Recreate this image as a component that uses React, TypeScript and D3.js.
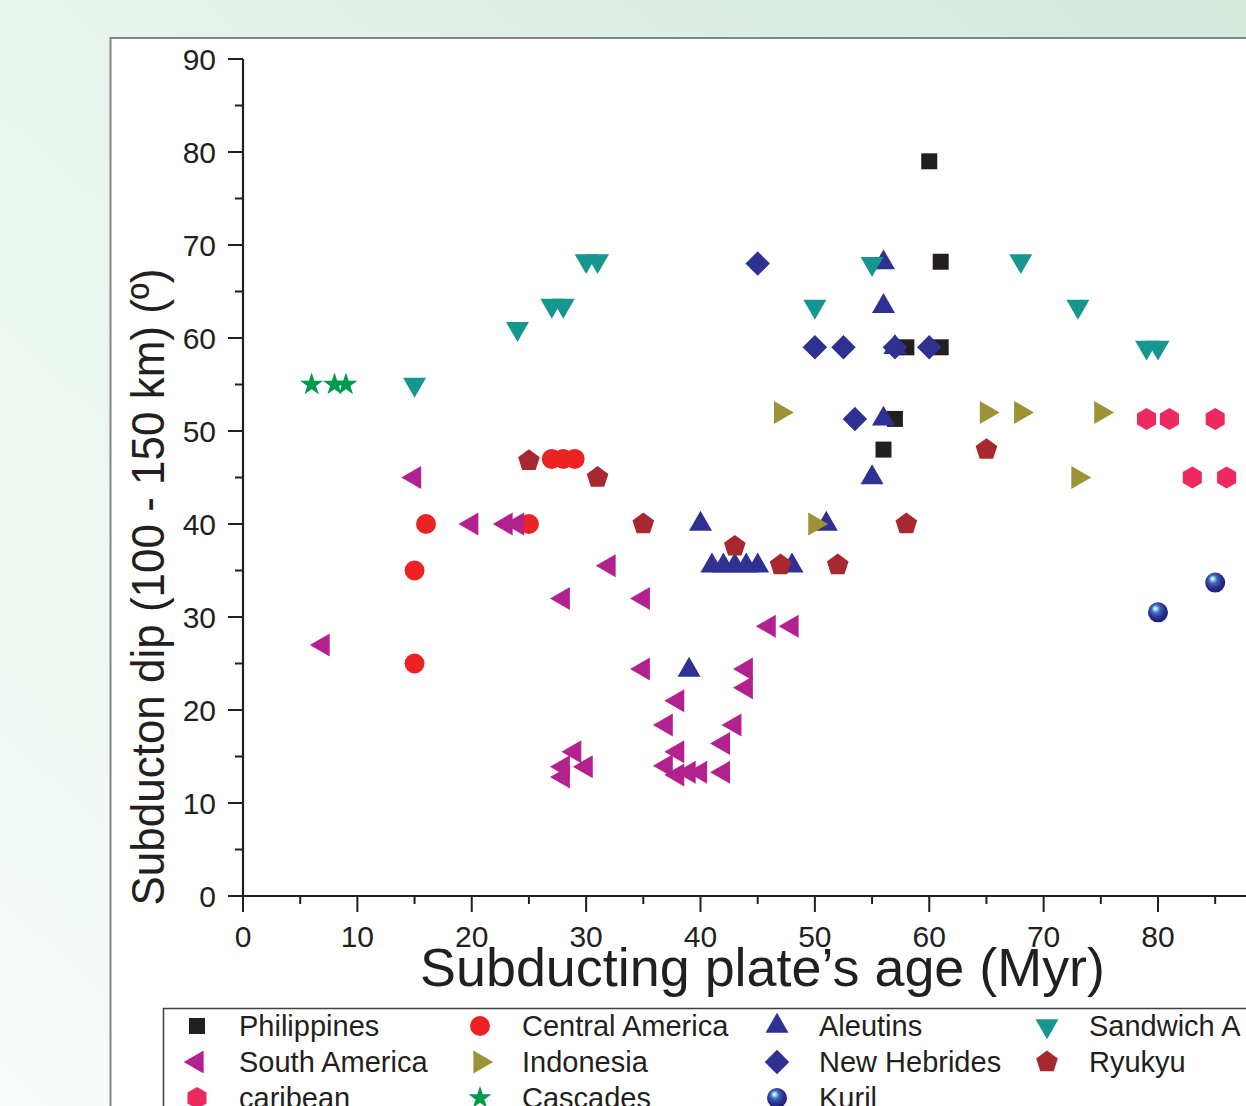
import React from "react";
import * as d3 from "d3";

// ---- data (age Myr, dip deg) ----
const philippines: [number, number][] = [[60, 79], [61, 68.2], [58, 59], [61, 59], [57, 51.3], [56, 48]];
const centralAmerica: [number, number][] = [[15, 25], [15, 35], [16, 40], [25, 40], [27, 47], [28, 47], [29, 47]];
const aleutins: [number, number][] = [[56, 68.1], [56, 63.4], [57, 59], [56, 51.3], [55, 45], [40, 40], [51, 40], [39, 24.3], [41, 35.5], [42, 35.5], [43, 35.5], [44, 35.5], [45, 35.5], [48, 35.5]];
const sandwich: [number, number][] = [[15, 55], [24, 61], [27, 63.5], [28, 63.5], [30, 68.3], [31, 68.3], [50, 63.4], [55, 68], [68, 68.3], [73, 63.4], [79, 59], [80, 59]];
const southAmerica: [number, number][] = [[15, 45], [20, 40], [23, 40], [24, 40], [7, 27], [32, 35.5], [28, 32], [35, 32], [35, 24.4], [29, 15.5], [28, 13.9], [30, 13.9], [28, 12.8], [46, 29], [48, 29], [44, 24.4], [44, 22.4], [38, 21], [37, 18.4], [43, 18.4], [42, 16.4], [38, 15.5], [37, 14], [38, 13], [39, 13.3], [40, 13.3], [42, 13.3]];
const indonesia: [number, number][] = [[47, 52], [50, 40], [65, 52], [68, 52], [75, 52], [73, 45]];
const newHebrides: [number, number][] = [[45, 68], [50, 59], [52.5, 59], [57, 59], [60, 59], [53.5, 51.3]];
const ryukyu: [number, number][] = [[25, 46.8], [31, 45], [35, 40], [43, 37.6], [47, 35.6], [52, 35.6], [58, 40], [65, 48]];
const caribean: [number, number][] = [[79, 51.3], [81, 51.3], [85, 51.3], [83, 45], [86, 45]];
const cascades: [number, number][] = [[6, 55], [8, 55], [9, 55]];
const kuril: [number, number][] = [[80, 30.5], [85, 33.7]];

const seriesNames = ["Philippines", "Central America", "Aleutins", "Sandwich A", "South America", "Indonesia", "New Hebrides", "Ryukyu", "caribean", "Cascades", "Kuril"];
const xTicks = [0, 10, 20, 30, 40, 50, 60, 70, 80];
const yTicks = [0, 10, 20, 30, 40, 50, 60, 70, 80, 90];

const xTitle = "Subducting plate\u2019s age (Myr)";
const yTitle = "Subducton dip (100 - 150 km) (\u00BA)";

// ---- layout ----
const W = 1246, H = 1106;
const x = d3.scaleLinear().domain([0, 90]).range([243, 243 + (1158 - 243) * 90 / 80]);
const y = d3.scaleLinear().domain([0, 90]).range([896, 59]);

const polygon = (n: number, R: number) => {
  const pts = d3.range(n).map((k) => {
    const a = (-90 + (k * 360) / n) * Math.PI / 180;
    return [R * Math.cos(a), R * Math.sin(a)] as [number, number];
  });
  return "M" + pts.map((p) => p.join(",")).join("L") + "Z";
};

const sq = d3.symbol(d3.symbolSquare, 256)()!;
const circ = d3.symbol(d3.symbolCircle, 314)()!;
const tri = d3.symbol(d3.symbolTriangle, 229)()!;
const diam = d3.symbol(d3.symbolSquare, 300)()!;
const star = d3.symbol(d3.symbolStar, 165)()!;
const pent = polygon(5, 11.4);
const hex = polygon(6, 11);

type Style = { data: [number, number][]; path: string; rot: number; fill: string };
const styles: Style[] = [
  { data: philippines, path: sq, rot: 0, fill: "#231f20" },
  { data: centralAmerica, path: circ, rot: 0, fill: "#ed2224" },
  { data: aleutins, path: tri, rot: 0, fill: "#2e3192" },
  { data: sandwich, path: tri, rot: 180, fill: "#16968f" },
  { data: southAmerica, path: tri, rot: -90, fill: "#b3218e" },
  { data: indonesia, path: tri, rot: 90, fill: "#9c9337" },
  { data: newHebrides, path: diam, rot: 45, fill: "#2e3192" },
  { data: ryukyu, path: pent, rot: 0, fill: "#a8282f" },
  { data: caribean, path: hex, rot: 0, fill: "#ec2a60" },
  { data: cascades, path: star, rot: 0, fill: "#009a4e" },
  { data: kuril, path: circ, rot: 0, fill: "url(#kurilGrad)" },
];

const font = "'Liberation Sans', Arial, Helvetica, sans-serif";
const ink = "#231f20";

const Marker = ({ s, cx, cy }: { s: Style; cx: number; cy: number }) => (
  <path d={s.path} transform={`translate(${cx},${cy}) rotate(${s.rot})`} fill={s.fill} />
);

export default function App() {
  const minorX = d3.range(5, 90, 10);
  const minorY = d3.range(5, 90, 10);
  const legCols = [197, 480, 777, 1047];
  const legTextX = [239, 522, 819, 1089];
  const legRows = [1026, 1062, 1098];
  return (
    <div style={{ position: "fixed", left: 0, top: 0, width: W, height: H, overflow: "hidden" }}>
      <svg width={W} height={H} viewBox={`0 0 ${W} ${H}`} style={{ display: "block" }}>
        <defs>
          <linearGradient id="bgGrad" x1="0" y1="1" x2="1" y2="0">
            <stop offset="0" stopColor="#f7fbf9" />
            <stop offset="0.5" stopColor="#e8f4ed" />
            <stop offset="1" stopColor="#d2e9dc" />
          </linearGradient>
          <radialGradient id="kurilGrad" cx="0.45" cy="0.4" r="0.6" fx="0.36" fy="0.3">
            <stop offset="0" stopColor="#ffffff" />
            <stop offset="0.14" stopColor="#a9d6f3" />
            <stop offset="0.34" stopColor="#3e6cc0" />
            <stop offset="0.65" stopColor="#2e3192" />
            <stop offset="1" stopColor="#1d1f70" />
          </radialGradient>
        </defs>
        <rect x={0} y={0} width={W} height={H} fill="url(#bgGrad)" />
        <rect x={110.5} y={38} width={W} height={H} fill="#ffffff" stroke="#858585" strokeWidth={2} />

        {/* y axis */}
        <line x1={x(0)} x2={x(0)} y1={y(90)} y2={y(0)} stroke={ink} strokeWidth={2.2} />
        {yTicks.map((t) => (
          <g key={"yt" + t}>
            <line x1={x(0) - 15} x2={x(0)} y1={y(t)} y2={y(t)} stroke={ink} strokeWidth={2} />
            <text x={216} y={y(t) + 10.7} textAnchor="end" fontFamily={font} fontSize={30} fill={ink}>{t}</text>
          </g>
        ))}
        {minorY.map((t) => (
          <line key={"ym" + t} x1={x(0) - 8} x2={x(0)} y1={y(t)} y2={y(t)} stroke={ink} strokeWidth={2} />
        ))}

        {/* x axis */}
        <line x1={x(0)} x2={W} y1={y(0)} y2={y(0)} stroke={ink} strokeWidth={2.2} />
        {xTicks.map((t) => (
          <g key={"xt" + t}>
            <line x1={x(t)} x2={x(t)} y1={y(0)} y2={y(0) + 16} stroke={ink} strokeWidth={2} />
            <text x={x(t)} y={947} textAnchor="middle" fontFamily={font} fontSize={30} fill={ink}>{t}</text>
          </g>
        ))}
        {minorX.map((t) => (
          <line key={"xm" + t} x1={x(t)} x2={x(t)} y1={y(0)} y2={y(0) + 8} stroke={ink} strokeWidth={2} />
        ))}

        {/* titles */}
        <text x={762.5} y={986} textAnchor="middle" fontFamily={font} fontSize={54} fill={ink} textLength={685} lengthAdjust="spacingAndGlyphs">{xTitle}</text>
        <text transform="translate(164,587) rotate(-90)" textAnchor="middle" fontFamily={font} fontSize={46} fill={ink} textLength={637} lengthAdjust="spacingAndGlyphs">{yTitle}</text>

        {/* points */}
        {styles.map((s, i) => (
          <g key={"s" + i}>
            {s.data.map((d, j) => (
              <Marker key={j} s={s} cx={x(d[0])} cy={y(d[1])} />
            ))}
          </g>
        ))}

        {/* legend */}
        <rect x={163.5} y={1008.5} width={1200} height={200} fill="#ffffff" stroke="#404040" strokeWidth={1.5} />
        {styles.map((s, i) => {
          const c = i % 4, r = Math.floor(i / 4);
          return (
            <g key={"l" + i}>
              <Marker s={s} cx={legCols[c]} cy={legRows[r]} />
              <text x={legTextX[c]} y={legRows[r] + 10} fontFamily={font} fontSize={29} fill={ink}>{seriesNames[i]}</text>
            </g>
          );
        })}
      </svg>
    </div>
  );
}
